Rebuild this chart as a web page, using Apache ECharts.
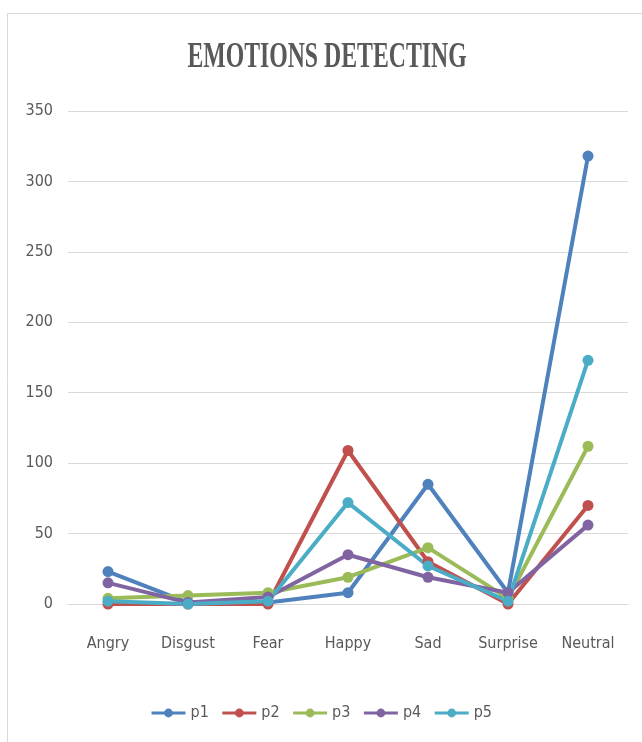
<!DOCTYPE html>
<html>
<head>
<meta charset="utf-8">
<script src="https://cdn.jsdelivr.net/npm/echarts@6/dist/echarts.min.js"></script>
<style>html,body{margin:0;padding:0;background:#fff;}#c{width:642px;height:742px;}</style>
</head>
<body>
<div id="c"></div>
<script>
var categories = ['Angry', 'Disgust', 'Fear', 'Happy', 'Sad', 'Surprise', 'Neutral'];
var p1 = [23, 1, 1, 8, 85, 8, 318];
var p2 = [0, 0, 0, 109, 30, 0, 70];
var p3 = [4, 6, 8, 19, 40, 4, 112];
var p4 = [15, 1, 5, 35, 19, 8, 56];
var p5 = [2, 0, 2, 72, 27, 2, 173];
var seriesNames = ['p1', 'p2', 'p3', 'p4', 'p5'];
var yTicks = [0, 50, 100, 150, 200, 250, 300, 350];
var titleText = 'EMOTIONS DETECTING';

var colors = ['#4F81BD', '#C0504D', '#9BBB59', '#8064A2', '#4BACC6'];
var data = [p1, p2, p3, p4, p5];
var narrow = '"Liberation Sans Narrow", "DejaVu Sans Condensed", "Liberation Sans", sans-serif';

var chart = echarts.init(document.getElementById('c'));
chart.setOption({
  backgroundColor: '#ffffff',
  animation: false,
  color: colors,
  graphic: [
    {type: 'rect', shape: {x: 7.5, y: 13.5, width: 700, height: 760}, style: {fill: 'none', stroke: '#D9D9D9', lineWidth: 1}, silent: true},
    {type: 'text', x: 327, y: 58, scaleX: 0.66, style: {text: titleText, font: 'bold 36px "Liberation Serif", serif', fill: '#595959', align: 'center', verticalAlign: 'middle'}}
  ],
  legend: {
    data: seriesNames,
    bottom: 16,
    left: 'center',
    itemWidth: 34,
    itemHeight: 11,
    itemGap: 12,
    lineStyle: {width: 3},
    textStyle: {fontFamily: narrow, fontSize: 16, color: '#595959'}
  },
  grid: {left: 68, right: 14, top: 111, bottom: 138},
  xAxis: {
    type: 'category',
    data: categories,
    boundaryGap: true,
    axisLine: {show: true, lineStyle: {color: '#D9D9D9', width: 1}},
    axisTick: {show: false},
    axisLabel: {interval: 0, fontFamily: narrow, fontSize: 16, color: '#595959', margin: 32}
  },
  yAxis: {
    type: 'value',
    min: yTicks[0],
    max: yTicks[yTicks.length - 1],
    interval: 50,
    axisLine: {show: false},
    axisTick: {show: false},
    splitLine: {lineStyle: {color: '#D9D9D9', width: 1}},
    axisLabel: {fontFamily: narrow, fontSize: 16, color: '#595959', margin: 15}
  },
  series: seriesNames.map(function (n, i) {
    return {
      name: n,
      type: 'line',
      data: data[i],
      symbol: 'circle',
      symbolSize: 11,
      lineStyle: {width: 4, color: colors[i]},
      itemStyle: {color: colors[i]}
    };
  })
});
</script>
</body>
</html>
